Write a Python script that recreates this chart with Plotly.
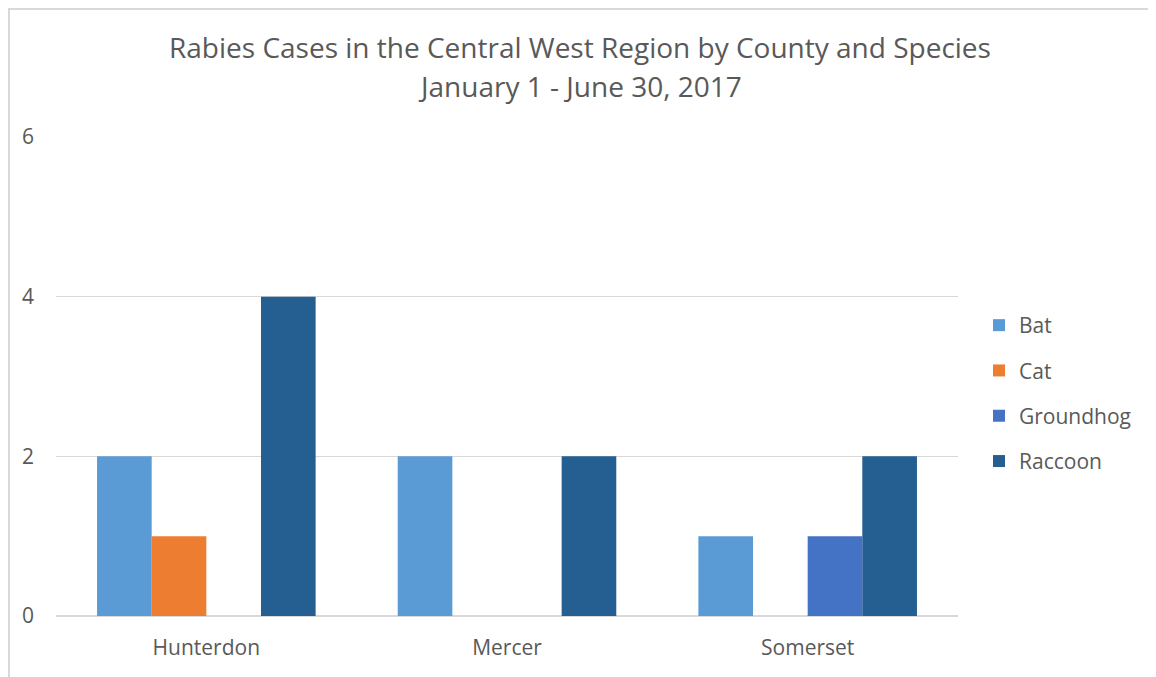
import plotly.graph_objects as go

counties = ["Hunterdon", "Mercer", "Somerset"]
bat = [2, 2, 1]
cat = [1, 0, 0]
groundhog = [0, 0, 1]
raccoon = [4, 2, 2]

species = ["Bat", "Cat", "Groundhog", "Raccoon"]
colors = ["#5B9BD5", "#ED7D31", "#4472C4", "#255E91"]
values = [bat, cat, groundhog, raccoon]

fig = go.Figure()
for name, vals, col in zip(species, values, colors):
    fig.add_trace(go.Bar(x=counties, y=vals, name=name, marker_color=col,
                         marker_line_width=0, legendgroup=name))

# page has an 8px body margin, so the figure is 8px smaller than the window
W, H = 1148, 669
L, R, T, B = 48, 198, 129, 61
pw, ph = W - L - R, H - T - B

def px(x):
    return (x - 8 - L) / pw

def py(y):
    return (H - B - (y - 8)) / ph

fig.update_layout(
    width=W, height=H,
    margin=dict(l=L, r=R, t=T, b=B),
    paper_bgcolor="white", plot_bgcolor="white",
    font=dict(family="Open Sans", color="#595959", size=21),
    barmode="group", bargap=0.273, bargroupgap=0,
    legend=dict(x=px(979), y=py(305), xanchor="left", yanchor="top",
                font=dict(size=21, color="#595959"), tracegroupgap=15,
                itemwidth=30),
    xaxis=dict(showgrid=False, showline=False, ticks="", tickfont=dict(size=21),
               ticklabelstandoff=17),
    yaxis=dict(range=[0, 6], tickvals=[0, 2, 4, 6], showgrid=True,
               gridcolor="#D9D9D9", gridwidth=1, zeroline=True,
               zerolinecolor="#D9D9D9", zerolinewidth=2, ticks="",
               ticklen=0, tickfont=dict(size=21), showline=False,
               ticklabelstandoff=21),
    annotations=[
        dict(text="Rabies Cases in the Central West Region by County and Species",
             x=px(580), y=py(47), xref="paper", yref="paper", showarrow=False,
             font=dict(size=28, color="#595959"), xanchor="center", yanchor="middle"),
        dict(text="January 1 - June 30, 2017",
             x=px(580), y=py(86), xref="paper", yref="paper", showarrow=False,
             font=dict(size=28, color="#595959"), xanchor="center", yanchor="middle"),
    ],
    shapes=[dict(type="rect", xref="paper", yref="paper",
                 x0=px(9), x1=px(1155), y0=py(700), y1=py(9),
                 line=dict(color="#D9D9D9", width=2), fillcolor="rgba(0,0,0,0)",
                 layer="below")],
)

fig.write_html("out.html")
